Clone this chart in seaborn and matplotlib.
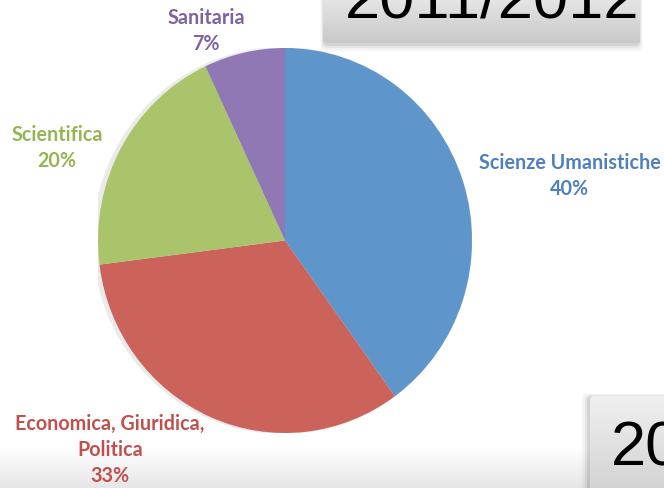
import numpy as np
import seaborn as sns
import matplotlib.pyplot as plt
from matplotlib.patches import FancyBboxPatch, Ellipse

# data
categories = ['Scienze Umanistiche', 'Economica, Giuridica,\nPolitica', 'Scientifica', 'Sanitaria']
shares = [40, 33, 20, 7]
wedge_colors = ['#5E96CB', '#CB635B', '#A9C46B', '#8F78B3']
text_colors = ['#4F7FBE', '#C0504D', '#94B552', '#7D62A3']
# label centres in pixel coords (x, y from top)
label_pos = [(570, 176), (110, 450), (57, 148), (206, 31)]

sns.set_theme(style='white')
plt.rcParams['font.family'] = ['Lato', 'DejaVu Sans']

W, H = 664, 488
fig = plt.figure(figsize=(W / 100, H / 100), dpi=100)
fig.patch.set_facecolor('white')

# background axes in pixel coordinates
bg = fig.add_axes([0, 0, 1, 1])
bg.set_xlim(0, W)
bg.set_ylim(H, 0)
bg.axis('off')


def grad_box(ax, x0, y0, x1, y1, c_top, c_bot, rounded=True, z=1):
    grad = np.linspace(0, 1, 64).reshape(-1, 1)
    top = np.array(plt.matplotlib.colors.to_rgb(c_top))
    bot = np.array(plt.matplotlib.colors.to_rgb(c_bot))
    img = top + (bot - top) * grad[:, :, None]
    img = np.repeat(img, 2, axis=1)
    im = ax.imshow(img, extent=(x0, x1, y1, y0), origin='upper', aspect='auto', zorder=z)
    if rounded:
        clip = FancyBboxPatch((x0, y0), x1 - x0, y1 - y0,
                              boxstyle='round,pad=0,rounding_size=4',
                              transform=ax.transData, facecolor='none', edgecolor='none')
        ax.add_patch(clip)
        im.set_clip_path(clip)
    return im


# bottom slide band
grad_box(bg, 0, 448, W, H, '#ffffff', '#e6e6e6', rounded=False, z=0)

# soft shadows of the boxes
for k, a in enumerate([0.08, 0.05, 0.03, 0.02]):
    sh = FancyBboxPatch((323 - k, -20), 317 + 2 * k, 64 + 2 * (k + 1),
                        boxstyle='round,pad=0,rounding_size=5',
                        facecolor='#000000', edgecolor='none', alpha=a, zorder=1)
    bg.add_patch(sh)
    sh2 = FancyBboxPatch((589 - 2 * (k + 1), 396 - k), 90, 110,
                         boxstyle='round,pad=0,rounding_size=5',
                         facecolor='#000000', edgecolor='none', alpha=a, zorder=1)
    bg.add_patch(sh2)

grad_box(bg, 323, -20, 640, 43, '#f2f2f2', '#c9c9c9', z=2)
grad_box(bg, 590, 396, 680, 500, '#f0f0f0', '#d0d0d0', z=2)

bg.text(492, 18, '2011/2012', family='Liberation Sans', fontsize=45.5,
        color='black', ha='center', va='baseline', zorder=3)
bg.text(611, 465, '20', family='Liberation Sans', fontsize=45.5,
        color='black', ha='left', va='baseline', zorder=3)

bg.set_xlim(0, W)
bg.set_ylim(H, 0)
bg.set_aspect('auto')

# pie axes, slightly taller than wide like the original
px0, px1, py0, py1 = 98, 472, 48, 433
ax = fig.add_axes([px0 / W, 1 - py1 / H, (px1 - px0) / W, (py1 - py0) / H])
ax.add_patch(Ellipse((-0.012, 0), 2.03, 2.01, facecolor='#dcdcdc', edgecolor='none',
                     alpha=0.6, zorder=0))
ax.pie(shares, colors=wedge_colors, startangle=90, counterclock=False,
       wedgeprops=dict(linewidth=0))
ax.set_aspect('auto')
ax.set_xlim(-1, 1)
ax.set_ylim(-1, 1)
ax.axis('off')

for cat, val, col, (x, y) in zip(categories, shares, text_colors, label_pos):
    bg.text(x, y, f'{cat}\n{val}%', color=col, fontsize=14.2, fontweight='bold',
            ha='center', va='center', linespacing=1.38, zorder=5)

fig.savefig('out.png', dpi=100)
